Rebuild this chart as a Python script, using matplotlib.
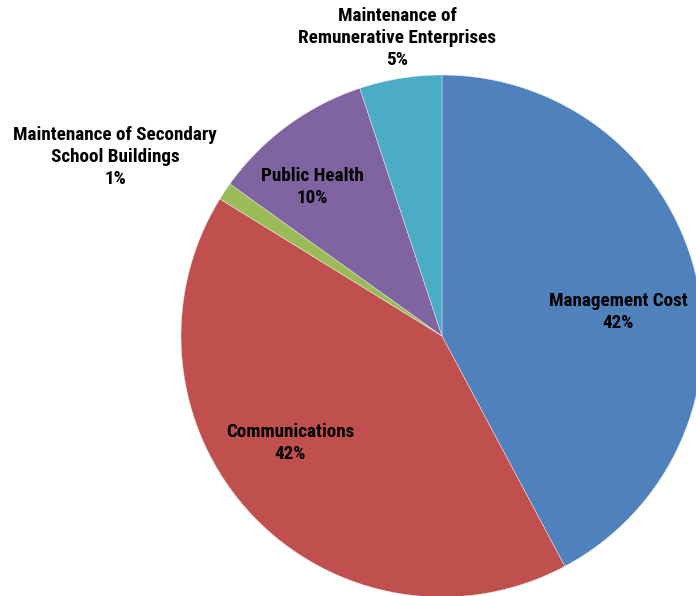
import matplotlib.pyplot as plt

categories = [
    "Management Cost",
    "Communications",
    "Maintenance of Secondary\nSchool Buildings",
    "Public Health",
    "Maintenance of\nRemunerative Enterprises",
]
shares = [42.2, 41.6, 1.1, 10.0, 5.1]
colors = ["#4F81BD", "#C0504D", "#9BBB59", "#8064A2", "#4BACC6"]

W, H = 696, 596
# label anchor points in pixels, measured from the top-left corner
label_pos = [(618, 312), (290, 443), (115, 157), (312, 187), (397, 38)]

fig = plt.figure(figsize=(W / 100, H / 100), dpi=100)
ax = fig.add_axes([0, 0, 1, 1])

ax.pie(
    shares,
    colors=colors,
    startangle=90,
    counterclock=False,
    center=(442, H - 336),
    radius=261,
    wedgeprops=dict(edgecolor="#f0f0f0", linewidth=0.3),
    frame=True,
)

total = sum(shares)
for name, val, (x, y) in zip(categories, shares, label_pos):
    ax.text(x, H - y, f"{name}\n{round(val / total * 100)}%",
            ha="center", va="center", fontsize=13.8, fontweight="bold",
            family=["Roboto Condensed", "Liberation Sans Narrow", "Roboto", "DejaVu Sans"],
            linespacing=1.32, color="black")

ax.set_xlim(0, W)
ax.set_ylim(0, H)
ax.set_aspect("equal")
ax.axis("off")

fig.savefig("out.png", dpi=100)
